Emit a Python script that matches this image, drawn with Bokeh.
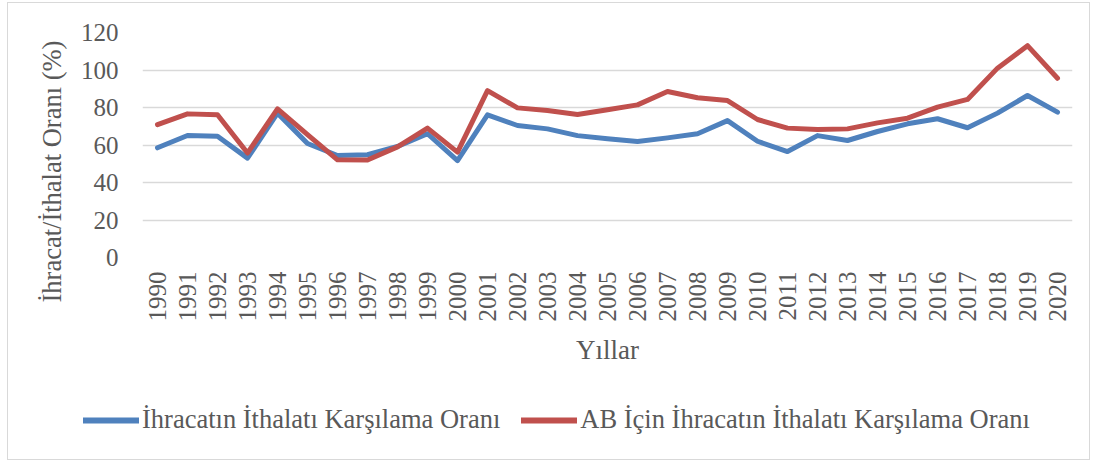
import math
from bokeh.plotting import figure
from bokeh.layouts import column
from bokeh.models import Range1d, FactorRange, Legend, LegendItem, Title
from bokeh.embed import file_html
from bokeh.resources import INLINE

years = [str(y) for y in range(1990, 2021)]
ihracat = [58.5, 65.1, 64.7, 53.0, 77.0, 60.8, 54.4, 54.8, 59.2, 66.0, 51.7,
           76.1, 70.4, 68.6, 65.0, 63.3, 61.9, 63.8, 66.0, 73.0, 62.0,
           56.5, 65.0, 62.4, 67.2, 71.3, 74.0, 69.2, 77.0, 86.4, 77.5]
ab_ihracat = [70.9, 76.6, 76.1, 55.7, 79.3, 65.5, 52.1, 52.0, 59.0, 69.0, 56.2,
              89.0, 79.8, 78.4, 76.3, 78.8, 81.4, 88.5, 85.2, 83.7, 73.6,
              69.0, 68.3, 68.6, 71.8, 74.3, 80.2, 84.3, 101.0, 113.0, 95.6]
y_ticks = [0, 20, 40, 60, 80, 100, 120]
series_names = ["İhracatın İthalatı Karşılama Oranı",
                "AB İçin İhracatın İthalatı Karşılama Oranı"]
x_title = "Yıllar"
y_title = "İhracat/İthalat Oranı (%)"

FONT = "Liberation Serif"
TXT = "#595959"
BLUE = "#4F81BD"
RED = "#C0504D"

p = figure(width=1081, height=374, x_range=FactorRange(*years, range_padding=0),
           y_range=Range1d(0, 120), output_backend="svg", toolbar_location=None,
           min_border_left=134, min_border_right=17, min_border_top=29,
           min_border_bottom=120)
p.outline_line_color = None
p.frame_align = False

p.ygrid.ticker = y_ticks
p.ygrid.grid_line_color = "#D9D9D9"
p.ygrid.grid_line_width = 1.5
p.xgrid.grid_line_color = None

p.yaxis.ticker = y_ticks
for ax in (p.xaxis[0], p.yaxis[0]):
    ax.axis_line_color = None
    ax.major_tick_line_color = None
    ax.minor_tick_line_color = None
    ax.major_tick_in = 0
    ax.major_tick_out = 0
    ax.major_label_text_font = FONT
    ax.major_label_text_color = TXT
    ax.major_label_text_font_size = "25px"
p.yaxis.major_label_standoff = 24
p.xaxis.major_label_orientation = math.pi / 2
p.xaxis.major_label_standoff = 14
p.xaxis.axis_label = x_title
p.xaxis.axis_label_text_font = FONT
p.xaxis.axis_label_text_font_style = "normal"
p.xaxis.axis_label_text_color = TXT
p.xaxis.axis_label_text_font_size = "27px"
p.xaxis.axis_label_standoff = 10

r1 = p.line(years, ihracat, line_color=BLUE, line_width=5,
            line_join="round", line_cap="round")
r2 = p.line(years, ab_ihracat, line_color=RED, line_width=5,
            line_join="round", line_cap="round")

p.add_layout(Title(text=y_title, align="left", offset=-45, standoff=22,
                   text_font=FONT, text_color=TXT, text_font_size="26.5px",
                   text_font_style="normal"), "left")

# legend strip below the chart (series drawn out of view; only legend shows)
q = figure(width=1081, height=82, x_range=FactorRange(*years, range_padding=0),
           y_range=Range1d(1000, 1001), output_backend="svg",
           toolbar_location=None, x_axis_type=None, y_axis_type=None,
           min_border_left=0, min_border_right=0, min_border_top=0,
           min_border_bottom=0)
q.outline_line_color = None
q.frame_align = False
q.xgrid.visible = False
q.ygrid.visible = False
l1 = q.line(years, ihracat, line_color=BLUE, line_width=6, line_cap="round")
l2 = q.line(years, ab_ihracat, line_color=RED, line_width=6, line_cap="round")
legend = Legend(items=[LegendItem(label=series_names[0], renderers=[l1]),
                       LegendItem(label=series_names[1], renderers=[l2])],
                orientation="horizontal", location=(75, 24),
                glyph_width=56, glyph_height=20, label_standoff=3, spacing=21,
                padding=0, margin=0, border_line_color=None,
                background_fill_alpha=0, label_text_font=FONT,
                label_text_color=TXT, label_text_font_size="26.5px")
q.add_layout(legend, "center")

layout = column(p, q, spacing=0,
                styles={"border": "1px solid #d9d9d9", "margin-left": "7px",
                        "margin-top": "2px"})

open("out.html", "w").write(file_html(layout, INLINE))
